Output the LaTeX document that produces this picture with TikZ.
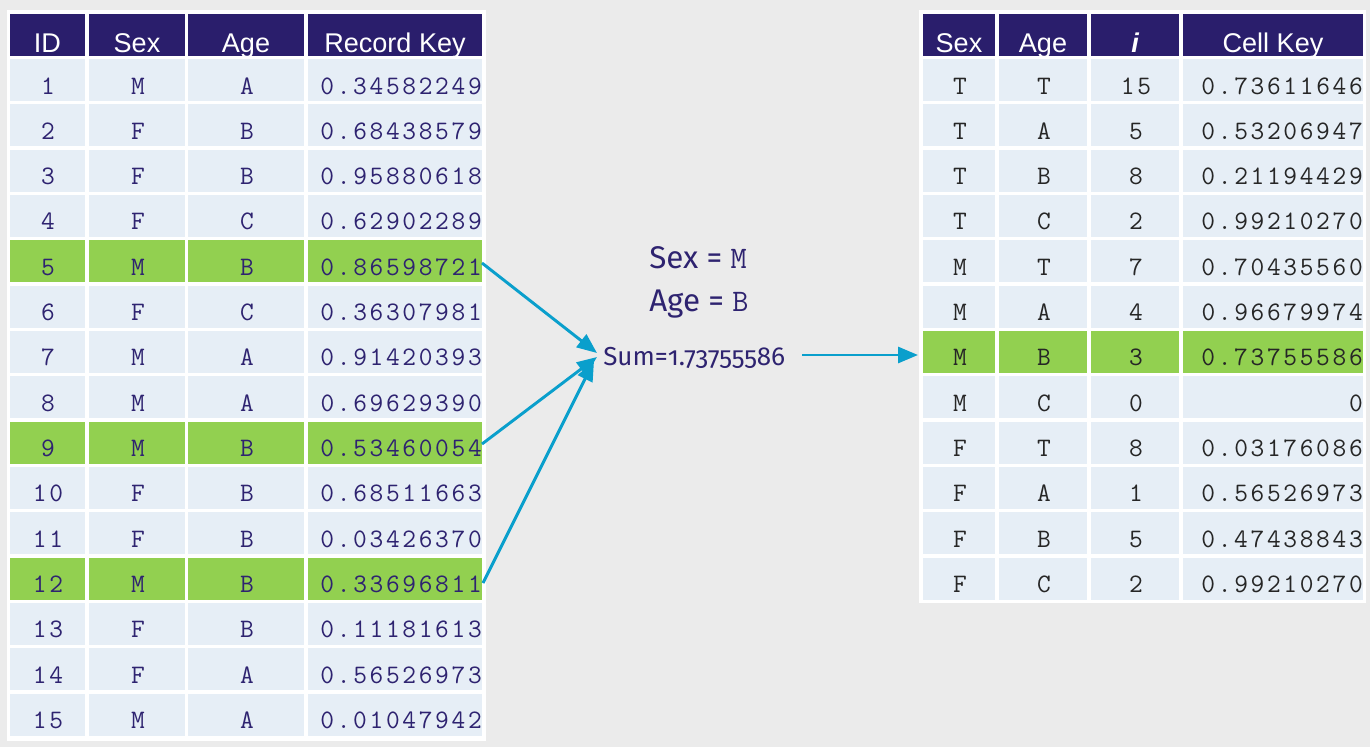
\documentclass[tikz,border=0pt]{standalone}
\usepackage{fontspec}
\setmainfont{Liberation Sans}
\setmonofont{Latin Modern Mono}[LetterSpace=10]
\newfontfamily\midf{Fira Sans}[Numbers=OldStyle]
\usetikzlibrary{arrows.meta}
\definecolor{bgc}{HTML}{EBEBEB}
\definecolor{hdr}{HTML}{2A1E6C}
\definecolor{cellc}{HTML}{E6EEF6}
\definecolor{grn}{HTML}{92D050}
\definecolor{navy}{HTML}{2E2370}
\definecolor{arr}{HTML}{0A9FCC}
\definecolor{dk}{HTML}{262626}
\begin{document}
\begin{tikzpicture}[x=0.75pt,y=-0.75pt,
  hdrtxt/.style={font=\fontsize{20.3}{21}\selectfont, text=white, anchor=base, inner sep=0pt},
  celltxt/.style={font=\ttfamily\fontsize{20}{21}\selectfont, anchor=base, inner sep=0pt},
  keytxt/.style={celltxt, anchor=base east},
  midtxt/.style={font=\midf\fontsize{23.5}{24}\selectfont, text=navy, anchor=base west, inner sep=0pt},
  conn/.style={arr, line width=2.2pt, -{Triangle[length=15pt,width=12pt]}}]
\fill[bgc] (0,0) rectangle (1370,747);
\useasboundingbox (0,0) rectangle (1370,747);
\fill[white] (7,10) rectangle (486,741);
\fill[white] (919,10) rectangle (1366,603);
% left header
\foreach \xa/\xb/\t/\n in {10/85/ID/id, 89/185/Sex/sex, 188/304/Age/age, 308/482/Record Key/key} {
  \fill[hdr] (\xa,14) rectangle (\xb,56);
  \node[hdrtxt] (LH-\n) at ({(\xa+\xb)/2},52) {\t};
}
% left rows
\foreach \id/\s/\a/\k/\g in {
  1/M/A/0.34582249/cellc, 2/F/B/0.68438579/cellc, 3/F/B/0.95880618/cellc,
  4/F/C/0.62902289/cellc, 5/M/B/0.86598721/grn, 6/F/C/0.36307981/cellc,
  7/M/A/0.91420393/cellc, 8/M/A/0.69629390/cellc, 9/M/B/0.53460054/grn,
  10/F/B/0.68511663/cellc, 11/F/B/0.03426370/cellc, 12/M/B/0.33696811/grn,
  13/F/B/0.11181613/cellc, 14/F/A/0.56526973/cellc, 15/M/A/0.01047942/cellc} {
  \pgfmathsetmacro\tp{59+(\id-1)*45.33}
  \pgfmathsetmacro\bt{\tp+42}
  \pgfmathsetmacro\bl{\tp+35}
  \fill[\g] (10,\tp) rectangle (85,\bt);
  \fill[\g] (89,\tp) rectangle (185,\bt);
  \fill[\g] (188,\tp) rectangle (304,\bt);
  \fill[\g] (308,\tp) rectangle (482,\bt);
  \node[celltxt, text=navy] (L-id-\id) at (48,\bl) {\id};
  \node[celltxt, text=navy] (L-sex-\id) at (138,\bl) {\s};
  \node[celltxt, text=navy] (L-age-\id) at (247,\bl) {\a};
  \node[keytxt, text=navy] (L-key-\id) at (482,\bl) {\k};
}
% right header
\foreach \xa/\xb/\t/\n in {923/995/Sex/sex, 999/1087/Age/age, 1091/1179/{\bfseries\itshape i}/i, 1183/1363/Cell Key/key} {
  \fill[hdr] (\xa,14) rectangle (\xb,56);
  \node[hdrtxt] (RH-\n) at ({(\xa+\xb)/2},52) {\t};
}
% right rows
\foreach \r/\s/\a/\i/\k/\g in {
  1/T/T/15/0.73611646/cellc, 2/T/A/5/0.53206947/cellc, 3/T/B/8/0.21194429/cellc,
  4/T/C/2/0.99210270/cellc, 5/M/T/7/0.70435560/cellc, 6/M/A/4/0.96679974/cellc,
  7/M/B/3/0.73755586/grn, 8/M/C/0/0/cellc, 9/F/T/8/0.03176086/cellc,
  10/F/A/1/0.56526973/cellc, 11/F/B/5/0.47438843/cellc, 12/F/C/2/0.99210270/cellc} {
  \pgfmathsetmacro\tp{59+(\r-1)*45.33}
  \pgfmathsetmacro\bt{\tp+42}
  \pgfmathsetmacro\bl{\tp+35}
  \fill[\g] (923,\tp) rectangle (995,\bt);
  \fill[\g] (999,\tp) rectangle (1087,\bt);
  \fill[\g] (1091,\tp) rectangle (1179,\bt);
  \fill[\g] (1183,\tp) rectangle (1363,\bt);
  \node[celltxt, text=dk] (R-sex-\r) at (960,\bl) {\s};
  \node[celltxt, text=dk] (R-age-\r) at (1044,\bl) {\a};
  \node[celltxt, text=dk] (R-i-\r) at (1136,\bl) {\i};
  \node[keytxt, text=dk] (R-key-\r) at (1363,\bl) {\k};
}
% middle text
\node[midtxt] (sexeq) at (649,268) {Sex = {\ttfamily\fontsize{23.5}{24}\selectfont M}};
\node[midtxt] (ageeq) at (649,311) {Age = {\ttfamily\fontsize{23.5}{24}\selectfont B}};
\node[midtxt, font=\midf\fontsize{19.5}{20}\selectfont] (sum) at (603,365) {Sum=1.73755586};
% connectors
\coordinate (a5) at (482,263);
\coordinate (a9) at (482,444);
\coordinate (a12) at (483,583);
\coordinate (t1) at (597,353);
\coordinate (t2) at (597,357);
\coordinate (t3) at (594,361);
\coordinate (s1) at (802,355);
\coordinate (r7) at (918,355);
\draw[conn] (a5) -- (t1);
\draw[conn] (a9) -- (t2);
\draw[conn] (a12) -- (t3);
\draw[conn] (s1) -- (r7);
\end{tikzpicture}
\end{document}
